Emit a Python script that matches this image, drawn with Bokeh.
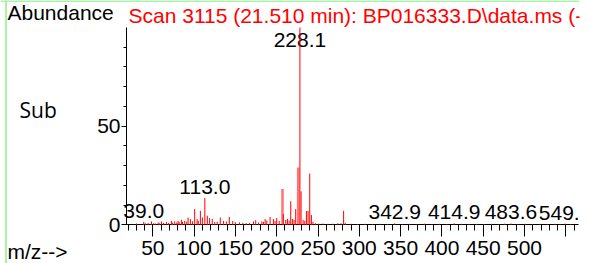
from bokeh.plotting import figure
from bokeh.models import FixedTicker, Range1d, Label, ColumnDataSource, LinearAxis, Span
from bokeh.embed import file_html
from bokeh.resources import INLINE
from bokeh.core.properties import value

# ---- data ----
mz = [30.3, 39.0, 41.0, 44.4, 48.4, 51.0, 53.0, 56.5, 58.0, 60.5, 63.0, 66.5, 69.0,
      72.5, 74.0, 76.5, 79.0, 80.6, 82.0, 84.6, 86.0, 88.6, 91.0, 92.7, 95.5, 98.0,
      100.7, 103.6, 105.0, 107.6, 110.0, 113.0, 116.0, 118.8, 122.0, 125.0, 128.0,
      131.7, 135.7, 139.0, 142.6, 146.8, 150.0, 155.0, 159.0, 163.0, 167.0, 171.9,
      174.6, 178.0, 182.0, 184.0, 186.0, 188.0, 192.0, 196.0, 198.0, 200.0, 203.0,
      208.0, 211.0, 213.0, 215.0, 217.0, 219.0, 221.0, 223.0, 228.1, 229.5, 232.0,
      234.0, 236.0, 238.0, 240.0, 242.0, 244.0, 247.0, 251.0, 256.0, 262.0, 268.0,
      274.0, 278.0, 281.0, 283.0, 290.0, 298.0, 307.0, 316.0, 325.0, 334.0, 342.9,
      352.0, 361.0, 370.0, 379.0, 388.0, 397.0, 406.0, 414.9, 424.0, 433.0, 442.0,
      451.0, 460.0, 469.0, 476.0, 483.6, 492.0, 501.0, 510.0, 519.0, 528.0, 537.0,
      543.0, 549.1, 556.0]
abundance = [0.7, 1.5, 0.8, 0.9, 1.7, 0.8, 0.7, 1.2, 0.8, 1.7, 1.0, 1.4, 0.9,
             2.0, 1.1, 1.7, 1.2, 2.0, 1.3, 2.6, 1.5, 2.0, 1.6, 3.7, 2.9, 1.8,
             8.0, 2.9, 2.0, 7.1, 3.7, 13.6, 4.6, 3.4, 2.9, 1.4, 1.6,
             3.7, 2.0, 1.7, 4.0, 2.0, 1.3, 1.2, 1.0, 0.9, 1.0, 1.7,
             2.4, 1.2, 1.7, 1.5, 2.9, 2.2, 4.0, 2.9, 2.0, 3.4, 2.0,
             5.5, 2.5, 3.0, 2.2, 12.0, 3.0, 2.5, 8.0, 100.0, 17.0, 2.5,
             2.0, 7.0, 7.0, 26.0, 5.0, 1.5, 0.8, 0.6, 0.7, 0.5, 0.6,
             0.8, 0.8, 7.1, 1.0, 0.5, 0.4, 0.5, 0.4, 0.5, 0.4, 0.8,
             0.4, 0.5, 0.4, 0.6, 0.4, 0.5, 0.4, 0.8, 0.5, 0.4, 0.5,
             0.4, 0.5, 0.4, 0.6, 0.7, 0.4, 0.5, 0.4, 0.5, 0.4, 0.5,
             0.4, 0.6, 0.4]
# broad (lighter) clusters
broad_mz = [207.0, 226.0]
broad_abundance = [18.2, 29.0]

label_mz = [39.0, 113.0, 228.1, 342.9, 414.9, 483.6, 549.1]

x_ticks = [50, 100, 150, 200, 250, 300, 350, 400, 450, 500, 550]
x_tick_labels = ["50", "100", "150", "200", "250", "300", "350", "400", "450", "500", ""]
y_ticks = [0, 50]
y_minor = [10, 20, 30, 40, 60, 70, 80, 90]
x_bounds = (18.2, 565.4)
y_bounds = (0, 100)

title_text = "Scan 3115 (21.510 min): BP016333.D\\data.ms (-"

FONT = "Liberation Sans"
W, H = 589, 263
SHIFT = 7  # baseline correction for svg text

# frame covers the whole canvas; axes are placed at fixed data locations
p = figure(width=W, height=H, title=None,
           x_range=Range1d(-134.4, 566.6), y_range=Range1d(-19.6, 113.7),
           x_axis_type=None, y_axis_type=None,
           output_backend="svg", toolbar_location=None,
           min_border_left=0, min_border_right=10,
           min_border_top=0, min_border_bottom=0)
p.outline_line_color = None
p.background_fill_color = "white"
p.border_fill_color = "white"

# x axis
x_minor = [v for v in range(20, 561, 10) if v % 50 != 0]
xa = LinearAxis(fixed_location=0, bounds=x_bounds,
                ticker=FixedTicker(ticks=x_ticks, minor_ticks=x_minor))
xa.major_label_overrides = {t: s for t, s in zip(x_ticks, x_tick_labels)}
xa.major_tick_out = 12
xa.major_tick_in = 0
xa.minor_tick_out = 6
xa.minor_tick_in = 0
xa.axis_line_color = "black"
xa.major_label_text_font = FONT
xa.major_label_text_font_size = "21px"
xa.major_label_text_color = "black"
xa.major_label_standoff = 4
xa.level = "underlay"
p.add_layout(xa, "below")

# y axis
ya = LinearAxis(fixed_location=x_bounds[0], bounds=y_bounds,
                ticker=FixedTicker(ticks=y_ticks, minor_ticks=y_minor))
ya.major_tick_out = 5
ya.major_tick_in = 0
ya.minor_tick_out = 3
ya.minor_tick_in = 0
ya.axis_line_color = "black"
ya.major_label_text_font = FONT
ya.major_label_text_font_size = "21px"
ya.major_label_text_color = "black"
ya.major_label_standoff = 1
ya.level = "underlay"
p.add_layout(ya, "left")

# page border (light green, top and left)
p.add_layout(Span(location=-127.7, dimension="height", line_color="#90EE90", line_width=1.5))
p.add_layout(Span(location=113.4, dimension="width", line_color="#90EE90", line_width=1.5))

# peak labels (drawn first, peaks on top)
label_ab = [abundance[mz.index(m)] for m in label_mz]
label_y = [min(a, 88.3) for a in label_ab]
label_text = ["%.1f" % m for m in label_mz]
p.text(x=label_mz, y=label_y, text=label_text, text_font=value(FONT),
       text_font_size="21px", text_align="center", text_baseline="alphabetic",
       y_offset=-4 - SHIFT, text_color="black")

# spectrum
p.segment(x0=broad_mz, y0=[0] * len(broad_mz), x1=broad_mz, y1=broad_abundance,
          line_color="#FF0000", line_alpha=0.55, line_width=2.5)
src = ColumnDataSource(dict(mz=mz, ab=abundance, zero=[0] * len(mz)))
p.segment(x0="mz", y0="zero", x1="mz", y1="ab", source=src,
          line_color="#FF0000", line_width=1)

# texts around the plot (screen units from the canvas bottom-left)
p.add_layout(Label(x=7, y=H - 19 + SHIFT, x_units="screen", y_units="screen", text="Abundance",
                   text_font=FONT, text_font_size="21px", text_color="black",
                   text_baseline="alphabetic"))
p.add_layout(Label(x=128, y=H - 21.5 + SHIFT, x_units="screen", y_units="screen", text=title_text,
                   text_font=FONT, text_font_size="21px", text_color="#FF0000",
                   text_baseline="alphabetic"))
p.add_layout(Label(x=19, y=H - 116.7 + SHIFT, x_units="screen", y_units="screen", text="Sub",
                   text_font="Open Sans", text_font_size="21px", text_color="black",
                   text_baseline="alphabetic"))
p.add_layout(Label(x=7, y=H - 258 + SHIFT, x_units="screen", y_units="screen", text="m/z-->",
                   text_font=FONT, text_font_size="21px", text_color="black",
                   text_baseline="alphabetic"))

open("out.html", "w").write(file_html(p, INLINE))
